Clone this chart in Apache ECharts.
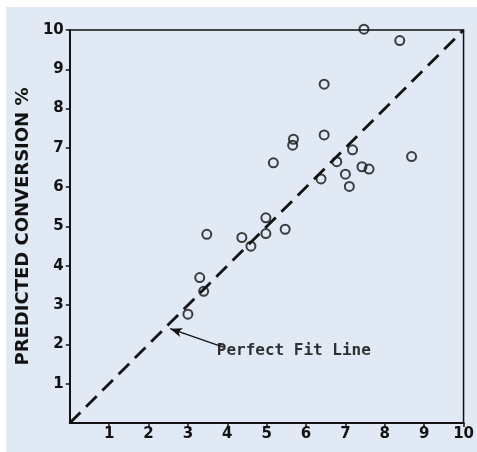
<!DOCTYPE html>
<html>
<head>
<meta charset="utf-8">
<script src="https://cdn.jsdelivr.net/npm/echarts@6/dist/echarts.min.js"></script>
<style>
  html, body { margin: 0; padding: 0; background: #ffffff; }
  #main { position: absolute; left: 6px; top: 7px; width: 471px; height: 445px; }
</style>
</head>
<body>
<div id="main"></div>
<script>
// measured conversion % (x) vs predicted conversion % (y)
const measured = [3.0, 3.3, 3.4, 3.48, 4.37, 4.6, 4.98, 4.98, 5.47, 5.17, 5.68, 5.66, 6.46, 6.46, 6.38, 6.78, 7.18, 7.0, 7.1, 7.42, 7.6, 8.68, 8.38, 7.47]
const predicted = [2.77, 3.7, 3.35, 4.8, 4.72, 4.5, 5.22, 4.82, 4.93, 6.62, 7.22, 7.07, 7.33, 8.62, 6.21, 6.65, 6.95, 6.33, 6.02, 6.52, 6.46, 6.78, 9.73, 10.02]
const fitLine = [[0, 0], [10, 10]]
const arrowFrom = [3.9, 1.93]
const arrowTo = [2.55, 2.4]
const noteAt = [3.72, 1.83]
const noteText = 'Perfect Fit Line'
const axisTitleY = 'PREDICTED CONVERSION %'

const points = measured.map((x, i) => [x, predicted[i]])

var myChart = echarts.init(document.getElementById('main'))

const ink = '#121212'
const labelFont = {
  color: ink,
  fontFamily: 'DejaVu Sans',
  fontWeight: 'bold',
  fontSize: 15
}

var option = {
  backgroundColor: '#e0e9f4',
  animation: false,
  grid: {
    left: 61,
    right: 12,
    top: 23,
    bottom: 29,
    show: true,
    borderColor: ink,
    borderWidth: 1.5,
    backgroundColor: 'transparent'
  },
  xAxis: {
    type: 'value',
    min: 0,
    max: 10,
    interval: 1,
    splitLine: { show: false },
    axisLine: { show: true, onZero: false, lineStyle: { color: ink, width: 2 } },
    axisTick: { show: true, length: 4, lineStyle: { color: ink, width: 1.5 } },
    axisLabel: Object.assign({ margin: 4, showMinLabel: false,
      formatter: v => (v === 0 ? '' : String(v)) }, labelFont)
  },
  yAxis: {
    type: 'value',
    min: 0,
    max: 10,
    interval: 1,
    name: axisTitleY,
    nameLocation: 'middle',
    nameGap: 32,
    nameTextStyle: {
      color: ink,
      fontFamily: 'DejaVu Sans',
      fontWeight: 'bold',
      fontSize: 18
    },
    splitLine: { show: false },
    axisLine: { show: true, onZero: false, lineStyle: { color: ink, width: 2 } },
    axisTick: { show: true, length: 4, lineStyle: { color: ink, width: 1.5 } },
    axisLabel: Object.assign({ margin: 6, showMinLabel: false,
      formatter: v => (v === 0 ? '' : String(v)) }, labelFont)
  },
  series: [
    {
      name: 'fit',
      type: 'line',
      data: fitLine,
      symbol: 'none',
      silent: true,
      lineStyle: { color: ink, width: 2.8, type: [15, 8] },
      markLine: {
        silent: true,
        symbol: ['none', 'arrow'],
        symbolSize: [7, 12],
        label: { show: false },
        lineStyle: { color: ink, width: 1.3, type: 'solid' },
        data: [[{ coord: arrowFrom }, { coord: arrowTo }]]
      }
    },
    {
      name: 'note',
      type: 'scatter',
      data: [noteAt],
      symbolSize: 1,
      itemStyle: { color: 'transparent' },
      silent: true,
      label: {
        show: true,
        position: 'right',
        distance: 0,
        formatter: noteText,
        color: '#000',
        fontFamily: 'DejaVu Sans Mono',
        fontWeight: 'bold',
        fontSize: 16
      }
    },
    {
      name: 'data',
      type: 'scatter',
      data: points,
      symbol: 'circle',
      symbolSize: 9,
      clip: false,
      itemStyle: { color: 'rgba(0,0,0,0)', borderColor: ink, borderWidth: 2 }
    }
  ]
}

myChart.setOption(option)
</script>
</body>
</html>
